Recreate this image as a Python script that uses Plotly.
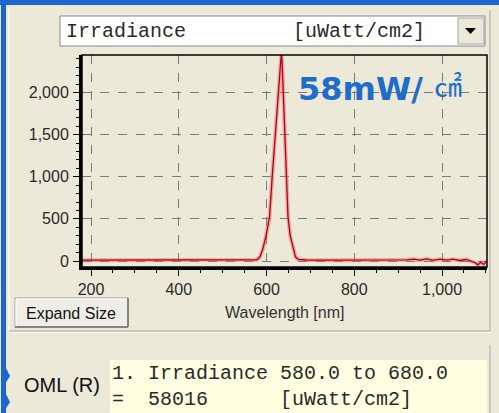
import plotly.graph_objects as go

# ---- data ----
wavelength = [180, 300, 400, 500, 560, 578, 585, 591, 599, 607, 613, 620, 627, 631, 634,
              636, 638, 641, 645, 649, 654, 661, 666, 672, 690, 750, 850, 900, 920, 935,
              950, 965, 980, 995, 1010, 1025, 1040, 1055, 1065, 1075, 1082, 1088, 1095, 1102]
irradiance = [10, 10, 10, 10, 12, 15, 50, 130, 300, 525, 1000, 1500, 2000, 2350, 2480,
              2300, 2000, 1500, 1000, 525, 300, 130, 50, 20, 12, 10, 10, 10, 14, 22,
              10, 25, 8, 22, 10, 22, 6, 18, 2, -20, -45, -15, -40, 0]

x_ticks = [200, 400, 600, 800, 1000]
x_tick_labels = ["200", "400", "600", "800", "1,000"]
y_ticks = [0, 500, 1000, 1500, 2000]
y_tick_labels = ["0", "500", "1,000", "1,500", "2,000"]

quantity = "Irradiance"
unit = "[uWatt/cm2]"
big_label = "58mW/"
big_unit = "\u33a0"
oml_line1 = "1. Irradiance 580.0 to 680.0"
oml_line2 = "=\u00a0\u00a058016\u00a0\u00a0\u00a0\u00a0\u00a0\u00a0[uWatt/cm2]"

W, H = 499, 413
ML, MR, MT, MB = 82, 12, 55, 146
PW, PH = W - ML - MR, H - MT - MB
BG = "#ece9d8"


def px(x):
    return (x - ML) / PW


def py(y):
    return 1 - (y - MT) / PH


fig = go.Figure()
fig.add_trace(go.Scatter(x=wavelength, y=irradiance, mode="lines",
                         line=dict(color="rgba(235,95,95,0.45)", width=4),
                         hoverinfo="skip", showlegend=False))
fig.add_trace(go.Scatter(x=wavelength, y=irradiance, mode="lines",
                         line=dict(color="#b3001b", width=1.3), showlegend=False))

shapes = []


def rect(x0, y0, x1, y1, fill, line=None, lw=1):
    shapes.append(dict(type="rect", xref="paper", yref="paper",
                       x0=px(x0), x1=px(x1), y0=py(y1), y1=py(y0),
                       fillcolor=fill, line=dict(color=line or fill, width=lw if line else 0),
                       layer="above"))


def hline(x0, x1, y, color, lw=1):
    shapes.append(dict(type="line", xref="paper", yref="paper",
                       x0=px(x0), x1=px(x1), y0=py(y), y1=py(y),
                       line=dict(color=color, width=lw), layer="above"))


def vline(x, y0, y1, color, lw=1):
    shapes.append(dict(type="line", xref="paper", yref="paper",
                       x0=px(x), x1=px(x), y0=py(y0), y1=py(y1),
                       line=dict(color=color, width=lw), layer="above"))


# window blue border
rect(0, 0, W, 5, "#1d66d2")
rect(1, 0, 6, H, "#1d66d2")
# panel edges
vline(9, 8, 331, "#ffffff")
vline(490, 10, 331, "#aca899")
hline(9, 490, 331, "#aca899")
hline(9, 490, 332.5, "#ffffff")
vline(490, 345, H, "#aca899")
# dropdown
rect(60, 16, 485, 46, "#ffffff", "#8a8a8a", 1)
rect(458, 18, 484, 44, "#ece9d8", "#a5a5a5", 1)
shapes.append(dict(type="path", xref="paper", yref="paper",
                   path=f"M {px(465)} {py(28)} L {px(476)} {py(28)} L {px(470.5)} {py(34)} Z",
                   fillcolor="#000000", line=dict(width=0), layer="above"))
# plot frame (thin top/right)
shapes.append(dict(type="rect", xref="paper", yref="paper", x0=0, x1=1, y0=0, y1=1,
                   line=dict(color="#000000", width=1.5), layer="above"))
# expand size button
rect(15, 298, 128, 327, "#efeee6", "#9a9a9a", 1)
hline(16, 127, 299, "#ffffff")
vline(16, 299, 326, "#ffffff")
hline(15, 128, 327, "#6e6e6e", 1.5)
vline(128, 298, 327, "#6e6e6e", 1.5)
# OML yellow box
rect(110, 360, 487, H, "#ffffe1")
# small blue bracket at left edge
shapes.append(dict(type="path", xref="paper", yref="paper",
                   path=(f"M {px(5)} {py(366)} L {px(10)} {py(376)} L {px(5)} {py(384)} Z "
                         f"M {px(5)} {py(392)} L {px(10)} {py(402)} L {px(5)} {py(410)} Z"),
                   fillcolor="#1d66d2", line=dict(width=0), layer="above"))

ann = []


def text(x, y, s, size, family, color="#1a1a1a", anchor="left", bold=False):
    ann.append(dict(xref="paper", yref="paper", x=px(x), y=py(y), text=(f"<b>{s}</b>" if bold else s),
                    showarrow=False, xanchor=anchor, yanchor="middle",
                    font=dict(size=size, family=family, color=color)))


mono = "Liberation Mono, Courier New, monospace"
sans = "Liberation Sans, Arial, sans-serif"
text(64, 31, quantity, 20, mono, "#2a2a2a")
text(291, 31, unit, 20, mono, "#2a2a2a")
text(296, 89, big_label, 32, "DejaVu Sans", "#1e6ec8", bold=True)
text(432, 85, big_unit, 28, "Noto Sans CJK SC", "#1e6ec8")
text(284, 312, "Wavelength [nm]", 16, sans, "#333333", anchor="center")
text(71, 313, "Expand Size", 16, sans, "#111111", anchor="center")
text(22, 385, "OML (R)", 20, sans, "#111111")
text(110, 373, oml_line1, 20, mono, "#2a2a2a")
text(110, 399, oml_line2, 20, mono, "#2a2a2a")

fig.update_layout(
    width=W, height=H,
    margin=dict(l=ML, r=MR, t=MT, b=MB, pad=0),
    paper_bgcolor=BG, plot_bgcolor=BG,
    shapes=shapes, annotations=ann,
    xaxis=dict(range=[179.5, 1102.5], tickvals=x_ticks, ticktext=x_tick_labels,
               showgrid=True, gridcolor="#7a7a7a", griddash="dash", gridwidth=1,
               zeroline=False, showline=True, linecolor="#000000", linewidth=3,
               ticks="outside", ticklen=6, tickcolor="#000000", tickwidth=1,
               minor=dict(dtick=50, tick0=200, ticks="outside", ticklen=3, tickcolor="#000000",
                          showgrid=False),
               tickfont=dict(size=16, family=sans, color="#2a2a2a")),
    yaxis=dict(range=[-71, 2445], tickvals=y_ticks, ticktext=y_tick_labels,
               showgrid=True, gridcolor="#7a7a7a", griddash="dash", gridwidth=1,
               zeroline=False, showline=True, linecolor="#000000", linewidth=3,
               ticks="outside", ticklen=6, tickcolor="#000000", tickwidth=1,
               minor=dict(dtick=100, tick0=0, ticks="outside", ticklen=3, tickcolor="#000000",
                          showgrid=False),
               ticklabelstandoff=1,
               tickfont=dict(size=16, family=sans, color="#2a2a2a")),
)

fig.write_html("out.html", config={"displayModeBar": False},
               post_script="document.body.style.margin='0px';document.body.style.overflow='hidden';")
